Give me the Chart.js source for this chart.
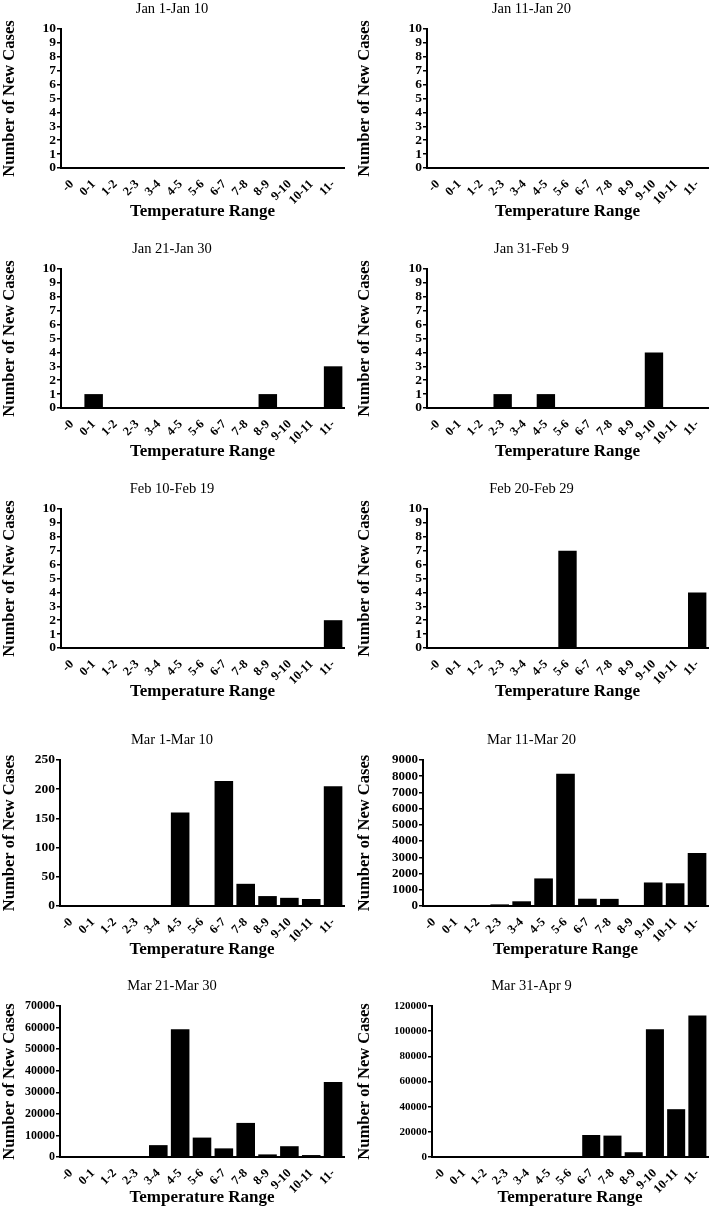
<!DOCTYPE html>
<html><head><meta charset="utf-8">
<script src="https://cdn.jsdelivr.net/npm/chart.js@4.4.1/dist/chart.umd.min.js"></script>
<style>
html,body{margin:0;padding:0;background:#fff;}
body{width:711px;height:1214px;position:relative;overflow:hidden;}
.p{position:absolute;}
</style></head><body>
<script>
const categories = ['-0','0-1','1-2','2-3','3-4','4-5','5-6','6-7','7-8','8-9','9-10','10-11','11-'];
const titles = ['Jan 1-Jan 10','Jan 11-Jan 20','Jan 21-Jan 30','Jan 31-Feb 9','Feb 10-Feb 19','Feb 20-Feb 29','Mar 1-Mar 10','Mar 11-Mar 20','Mar 21-Mar 30','Mar 31-Apr 9'];
const jan1_10   = [0,0,0,0,0,0,0,0,0,0,0,0,0];
const jan11_20  = [0,0,0,0,0,0,0,0,0,0,0,0,0];
const jan21_30  = [0,1,0,0,0,0,0,0,0,1,0,0,3];
const jan31_feb9 = [0,0,0,1,0,1,0,0,0,0,4,0,0];
const feb10_19  = [0,0,0,0,0,0,0,0,0,0,0,0,2];
const feb20_29  = [0,0,0,0,0,0,7,0,0,0,0,0,4];
const mar1_10   = [0,0,0,0,0,160,0,214,38,17,14,12,205];
const mar11_20  = [0,5,20,100,290,1700,8150,450,440,30,1450,1400,3270];
const mar21_30  = [0,0,50,200,5500,59200,9000,4000,15800,1200,5000,900,34800];
const mar31_apr9 = [0,0,0,0,0,0,0,17500,17000,3800,101500,38000,112500];
const yMax  = [10,10,10,10,10,10,250,9000,70000,120000];
const yStep = [1,1,1,1,1,1,50,1000,10000,20000];
const series = [jan1_10,jan11_20,jan21_30,jan31_feb9,feb10_19,feb20_29,mar1_10,mar11_20,mar21_30,mar31_apr9];

const rows = [
  {top:0,h:225,xh:57},
  {top:240,h:225,xh:57},
  {top:480,h:225,xh:57},
  {top:731,h:232,xh:57},
  {top:977,h:234,xh:54}
];
const yWidths = [61,72,61,72,61,72,60,68,60,77];
const yFont = [13.5,13.5,13.5,13.5,13.5,13.5,13.5,13,12,11];

Chart.defaults.font.family = "'Liberation Serif','Times New Roman',serif";
Chart.defaults.color = '#000';

series.forEach((data,i)=>{
  const col = i%2, row = rows[Math.floor(i/2)];
  const div = document.createElement('div');
  div.className='p';
  const w = col===0?355:356;
  div.style.left=(col===0?0:355)+'px';
  div.style.top=row.top+'px';
  div.style.width=w+'px';
  div.style.height=row.h+'px';
  const cv=document.createElement('canvas');
  div.appendChild(cv);
  document.body.appendChild(div);
  const yw=yWidths[i], xh=row.xh;
  new Chart(cv,{
    type:'bar',
    data:{labels:categories,datasets:[{data:data,backgroundColor:'#000',borderWidth:0,barPercentage:0.85,categoryPercentage:1}]},
    options:{
      responsive:true,maintainAspectRatio:false,animation:false,
      layout:{padding:{left:0,right:col===0?11:3,top:0,bottom:0}},
      plugins:{
        legend:{display:false},tooltip:{enabled:false},
        title:{display:true,text:titles[i],font:{size:14.5,weight:'normal'},color:'#000',padding:{top:0,bottom:11.6}}
      },
      scales:{
        x:{
          grid:{display:false},
          border:{display:true,color:'#000',width:2},
          ticks:{font:{size:12.5,weight:'bold'},color:'#000',maxRotation:45,minRotation:45,autoSkip:false,padding:1},
          title:{display:true,text:'Temperature Range',font:{size:17,weight:'bold'},color:'#000',padding:{top:0,bottom:3}},
          afterFit:(s)=>{s.height=xh;}
        },
        y:{
          min:0,max:yMax[i],
          grid:{drawOnChartArea:false,drawTicks:true,tickLength:4,color:'#000',lineWidth:1.5},
          border:{display:true,color:'#000',width:2},
          ticks:{stepSize:yStep[i],autoSkip:false,font:{size:yFont[i],weight:'bold'},color:'#000',padding:1,callback:(v)=>String(v)},
          title:{display:true,text:'Number of New Cases',font:{size:16.5,weight:'bold'},color:'#000',padding:{top:0,bottom:0}},
          afterFit:(s)=>{s.width=yw;}
        }
      }
    }
  });
});
</script>
</body></html>
